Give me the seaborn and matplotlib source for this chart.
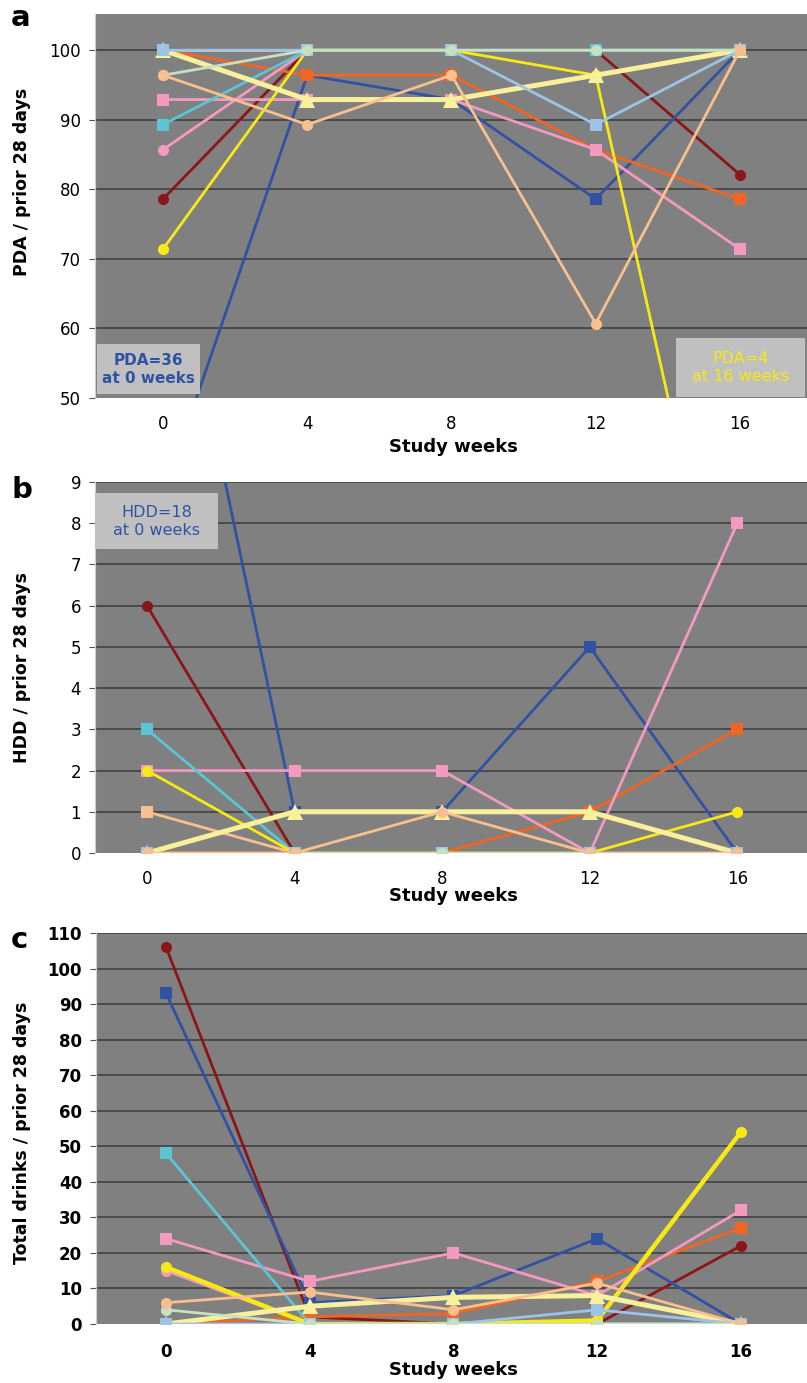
import numpy as np
import pandas as pd
import seaborn as sns
import matplotlib.pyplot as plt
from matplotlib.patches import Rectangle

weeks = [0, 4, 8, 12, 16]

# one entry per participant, in drawing order (later ones sit on top)
subjects = ['S9', 'S1', 'S2', 'S3', 'S4', 'S5', 'S6', 'S7', 'S11', 'S12', 'S10', 'S8']

pda = {
    'S1': [78.6, 100, 100, 100, 82.1],
    'S2': [36, 96.4, 92.9, 78.6, 100],
    'S3': [100, 96.4, 96.4, 85.7, 78.6],
    'S4': [92.9, 92.9, 92.9, 85.7, 71.4],
    'S5': [85.7, 100, 100, 100, 100],
    'S6': [89.3, 100, 100, 100, 100],
    'S7': [71.4, 100, 100, 96.4, 4],
    'S8': [96.4, 89.3, 96.4, 60.7, 100],
    'S9': [100, 100, 100, 100, 100],
    'S10': [96.4, 100, 100, 100, 100],
    'S11': [100, 92.9, 92.9, 96.4, 100],
    'S12': [100, 100, 100, 89.3, 100],
}

hdd = {
    'S1': [6, 0, 0, 0, 0],
    'S2': [18, 1, 1, 5, 0],
    'S3': [0, 0, 0, 1, 3],
    'S4': [2, 2, 2, 0, 8],
    'S5': [0, 0, 0, 0, 0],
    'S6': [3, 0, 0, 0, 0],
    'S7': [2, 0, 0, 0, 1],
    'S8': [0, 0, 1, 0, 0],
    'S9': [1, 0, 0, 0, 0],
    'S10': [0, 0, 0, 0, 0],
    'S11': [0, 1, 1, 1, 0],
    'S12': [0, 0, 0, 0, 0],
}

drinks = {
    'S1': [106, 2, 0, 0, 22],
    'S2': [93, 6, 8, 24, 0],
    'S3': [0, 2, 3, 12, 27],
    'S4': [24, 12, 20, 8, 32],
    'S5': [15, 0, 0, 0, 0],
    'S6': [48, 0, 0, 0, 0],
    'S7': [16, 0, 0, 1, 54],
    'S8': [6, 9, 4, 11.5, 0],
    'S9': [0, 0, 0, 0, 0],
    'S10': [4, 0, 0, 0, 0],
    'S11': [0, 5, 7.5, 8, 0],
    'S12': [0, 0, 0, 4, 0],
}

colors = {
    'S1': '#8b1517', 'S2': '#3152a3', 'S3': '#f26522', 'S4': '#f49ac1',
    'S5': '#f49ac1', 'S6': '#5bc5d6', 'S7': '#f7ea14', 'S8': '#f9c08f',
    'S9': '#f9c08f', 'S10': '#c6e0c2', 'S11': '#f8f09a', 'S12': '#9dc4e6',
}
markers = {
    'S1': 'o', 'S2': 's', 'S3': 's', 'S4': 's', 'S5': 'o', 'S6': 's',
    'S7': 'o', 'S8': 'o', 'S9': 's', 'S10': 'o', 'S11': '^', 'S12': 's',
}

BG = '#808080'
GRID = '#3c3c3c'
BOX = '#c0c0c0'

W, H = 807, 1383
fig = plt.figure(figsize=(W / 100, H / 100), dpi=100)
plt.rcParams['font.family'] = ['DejaVu Sans']


def px_axes(left, top, right, bottom):
    return fig.add_axes([left / W, 1 - bottom / H, (right - left) / W, (bottom - top) / H])


def draw_panel(ax, data, xlim, ylim, yticks, widths):
    ax.set_facecolor(BG)
    for y in yticks[1:]:
        ax.axhline(y, color=GRID, lw=1.1, zorder=0)
    for s in subjects:
        df = pd.DataFrame({'week': weeks, 'value': data[s]})
        ms = 9 if markers[s] == 's' else 8
        if markers[s] == '^':
            ms = 11
        sns.lineplot(data=df, x='week', y='value', ax=ax, color=colors[s],
                     lw=widths.get(s, 2.0), marker=markers[s], markersize=ms,
                     markeredgewidth=0, zorder=2)
    ax.set_xlim(*xlim)
    ax.set_ylim(*ylim)
    ax.set_yticks(yticks)
    ax.set_xticks(weeks)
    ax.set_xlabel('')
    ax.set_ylabel('')
    for side in ['top', 'right', 'bottom']:
        ax.spines[side].set_visible(False)
    ax.spines['left'].set_color('#d0d0d0')
    ax.tick_params(axis='y', labelsize=12, length=4, color='#555555', pad=6)
    ax.tick_params(axis='x', labelsize=12, length=0, pad=12)
    ax.grid(False)


def box(ax, x0, y0, w, h, lines, color, weight, size):
    ax.add_patch(Rectangle((x0, y0), w, h, transform=ax.transAxes,
                           facecolor=BOX, edgecolor='none', zorder=5, clip_on=False))
    ax.text(x0 + w / 2, y0 + h / 2, lines, transform=ax.transAxes, ha='center',
            va='center', color=color, fontsize=size, fontweight=weight,
            linespacing=1.25, zorder=6)


# panel a
ax_a = px_axes(95, 14, 807, 398)
draw_panel(ax_a, pda, (-1.886, 17.86), (50, 105.2), [50, 60, 70, 80, 90, 100],
           {'S11': 3.6})
box(ax_a, 0.003, 0.010, 0.145, 0.130, 'PDA=36\nat 0 weeks', '#3152a3', 'bold', 11)
box(ax_a, 0.816, 0.003, 0.181, 0.154, 'PDA=4\nat 16 weeks', '#f7ea14', 'normal', 11.5)

# panel b
ax_b = px_axes(95, 482, 807, 853)
draw_panel(ax_b, hdd, (-1.41, 17.89), (0, 9), list(range(0, 10)), {'S11': 3.6})
box(ax_b, 0.0, 0.819, 0.173, 0.151, 'HDD=18\nat 0 weeks', '#3152a3', 'normal', 11.5)

# panel c
ax_c = px_axes(96, 933, 807, 1324)
draw_panel(ax_c, drinks, (-1.95, 17.84), (0, 110), list(range(0, 111, 10)),
           {'S11': 3.6, 'S7': 3.2})
for t in ax_c.get_xticklabels() + ax_c.get_yticklabels():
    t.set_fontweight('bold')
ax_c.tick_params(axis='x', pad=14)

for letter, ypx in [('a', 18), ('b', 490), ('c', 940)]:
    fig.text(11 / W, 1 - ypx / H, letter, fontsize=21, fontweight='bold', va='center')

for ypx in [447, 896, 1370]:
    fig.text(453 / W, 1 - ypx / H, 'Study weeks', fontsize=13, fontweight='bold',
             ha='center', va='center')

for label, ypx in [('PDA / prior 28 days', 182), ('HDD / prior 28 days', 668),
                   ('Total drinks / prior 28 days', 1133)]:
    fig.text(22 / W, 1 - ypx / H, label, fontsize=12.5, fontweight='bold',
             rotation=90, ha='center', va='center')

fig.savefig('out.png', dpi=100, facecolor='white')
